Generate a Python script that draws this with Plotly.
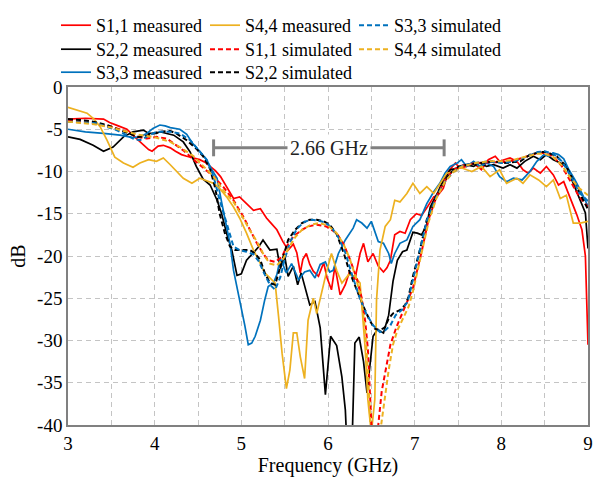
import plotly.graph_objects as go

# ---------------- measured return loss ----------------
s11_meas_f = [3.0, 3.2, 3.41, 3.48, 3.58, 3.68, 3.76, 3.83, 3.93, 3.97, 4.04, 4.1, 4.18, 4.24, 4.31, 4.37,
              4.45, 4.52, 4.58, 4.64, 4.7, 4.76, 4.83, 4.91, 4.98, 5.06, 5.14, 5.22, 5.29, 5.35, 5.41, 5.48,
              5.54, 5.6, 5.64, 5.68, 5.71, 5.75, 5.79, 5.83, 5.89, 5.95, 5.99, 6.04, 6.08, 6.14, 6.2, 6.25,
              6.31, 6.37, 6.41, 6.46, 6.52, 6.58, 6.64, 6.68, 6.72, 6.77, 6.83, 6.89, 6.95, 7.02, 7.08, 7.14,
              7.22, 7.27, 7.33, 7.39, 7.47, 7.52, 7.6, 7.68, 7.77, 7.85, 7.93, 7.98, 8.1, 8.18, 8.25, 8.31,
              8.37, 8.45, 8.52, 8.6, 8.66, 8.72, 8.79, 8.87, 8.93, 8.97, 9.0]
s11_meas_db = [-3.8, -3.7, -3.8, -4.2, -4.6, -5.0, -5.8, -6.5, -7.4, -7.6, -7.0, -6.9, -7.2, -7.6, -8.0, -8.2,
               -8.4, -8.6, -8.9, -9.4, -9.9, -10.6, -11.8, -13.2, -13.0, -13.8, -14.6, -14.4, -15.5, -16.2, -16.9, -18.3,
               -19.3, -18.6, -19.6, -22.0, -20.4, -19.7, -21.0, -21.8, -22.4, -20.8, -22.6, -24.0, -21.2, -24.6, -23.4, -21.8,
               -22.8, -19.7, -18.5, -20.7, -19.7, -21.2, -21.9, -21.4, -20.5, -17.5, -17.1, -17.3, -15.7, -15.0, -15.2, -14.3,
               -13.0, -12.8, -12.0, -10.0, -9.0, -9.6, -9.4, -9.0, -9.8, -8.6, -8.2, -8.8, -8.4, -8.8, -9.8, -10.2,
               -9.6, -10.2, -9.4, -10.4, -11.6, -11.2, -13.0, -15.1, -16.9, -20.0, -30.5]

s22_meas_f = [3.0, 3.14, 3.29, 3.41, 3.52, 3.64, 3.75, 3.87, 3.93, 4.02, 4.06, 4.14, 4.22, 4.33, 4.41, 4.48,
              4.56, 4.64, 4.72, 4.77, 4.83, 4.89, 4.95, 5.0, 5.06, 5.14, 5.2, 5.25, 5.33, 5.41, 5.45, 5.5,
              5.54, 5.6, 5.65, 5.69, 5.74, 5.79, 5.85, 5.91, 5.97, 6.03, 6.1, 6.16, 6.2, 6.23, 6.27, 6.31,
              6.36, 6.41, 6.45, 6.48, 6.52, 6.57, 6.64, 6.7, 6.75, 6.8, 6.86, 6.91, 6.98, 7.03, 7.08, 7.14,
              7.18, 7.22, 7.27, 7.33, 7.41, 7.49, 7.58, 7.68, 7.75, 7.83, 7.91, 8.02, 8.1, 8.18, 8.27, 8.37,
              8.45, 8.52, 8.6, 8.68, 8.75, 8.83, 8.91, 8.97, 9.0]
s22_meas_db = [-5.9, -6.2, -6.9, -7.6, -7.1, -5.9, -5.3, -5.1, -5.5, -5.5, -5.3, -5.5, -5.7, -6.5, -7.7, -9.4,
               -10.9, -11.6, -13.4, -14.9, -17.3, -19.3, -22.3, -22.1, -20.5, -19.6, -18.9, -18.1, -19.3, -19.2, -21.5, -20.0,
               -22.4, -21.2, -23.4, -22.0, -23.8, -25.8, -25.4, -28.5, -36.4, -29.5, -30.6, -34.3, -38.2, -45.0, -45.0, -30.3,
               -29.6, -32.5, -36.2, -33.4, -29.5, -28.7, -29.1, -27.0, -23.0, -20.5, -19.5, -19.3, -17.2, -17.3, -17.5, -16.3,
               -14.2, -13.4, -12.4, -11.0, -9.8, -9.6, -9.2, -9.4, -9.0, -9.4, -9.2, -9.6, -9.2, -9.6, -8.8, -8.2,
               -8.6, -8.0, -8.6, -9.0, -9.4, -11.4, -13.4, -14.9, -19.1]

s33_meas_f = [3.0, 3.2, 3.41, 3.6, 3.75, 3.83, 3.91, 3.98, 4.06, 4.12, 4.18, 4.29, 4.37, 4.44, 4.52, 4.6,
              4.66, 4.72, 4.77, 4.83, 4.87, 4.91, 4.95, 5.0, 5.04, 5.08, 5.12, 5.16, 5.22, 5.27, 5.31, 5.37,
              5.41, 5.45, 5.52, 5.58, 5.66, 5.73, 5.79, 5.85, 5.91, 5.97, 6.02, 6.06, 6.12, 6.2, 6.29, 6.33,
              6.39, 6.45, 6.5, 6.58, 6.64, 6.7, 6.73, 6.77, 6.83, 6.91, 6.98, 7.06, 7.14, 7.22, 7.29, 7.35,
              7.41, 7.49, 7.54, 7.6, 7.68, 7.75, 7.83, 7.91, 7.98, 8.06, 8.14, 8.24, 8.33, 8.41, 8.49, 8.55,
              8.6, 8.66, 8.72, 8.78, 8.85, 8.93, 9.0]
s33_meas_db = [-5.0, -5.3, -5.5, -5.7, -6.0, -5.9, -5.5, -4.9, -4.5, -4.6, -4.8, -5.0, -5.6, -6.7, -7.6, -8.6,
               -9.8, -10.8, -13.5, -16.4, -18.6, -21.7, -23.6, -26.0, -28.2, -30.5, -30.3, -29.5, -27.6, -25.2, -23.6, -23.2,
               -22.2, -20.3, -22.0, -20.9, -22.8, -21.9, -21.7, -22.6, -21.0, -20.7, -21.9, -21.7, -19.7, -18.1, -16.7, -15.7,
               -16.1, -16.7, -15.9, -18.3, -18.5, -19.7, -20.9, -19.7, -18.5, -18.1, -16.5, -15.7, -13.8, -12.4, -11.4, -10.2,
               -9.4, -9.0, -8.6, -9.4, -8.8, -9.4, -9.0, -9.4, -10.6, -11.2, -10.8, -11.0, -10.0, -8.8, -8.0, -8.2,
               -7.8, -8.0, -8.5, -9.8, -11.0, -12.6, -14.1]

s44_meas_f = [3.0, 3.1, 3.22, 3.3, 3.37, 3.45, 3.54, 3.64, 3.75, 3.83, 3.93, 4.02, 4.1, 4.18, 4.25, 4.33,
              4.43, 4.52, 4.6, 4.68, 4.75, 4.83, 4.91, 4.98, 5.06, 5.14, 5.22, 5.27, 5.33, 5.39, 5.43, 5.47,
              5.52, 5.56, 5.6, 5.64, 5.68, 5.73, 5.77, 5.83, 5.87, 5.93, 5.98, 6.04, 6.1, 6.16, 6.24, 6.31,
              6.37, 6.43, 6.46, 6.5, 6.54, 6.56, 6.6, 6.66, 6.72, 6.77, 6.83, 6.91, 6.98, 7.06, 7.14, 7.22,
              7.29, 7.37, 7.47, 7.52, 7.6, 7.66, 7.77, 7.87, 7.98, 8.06, 8.18, 8.25, 8.33, 8.43, 8.52, 8.6,
              8.68, 8.75, 8.83, 8.91, 9.0]
s44_meas_db = [-2.4, -2.7, -3.1, -3.8, -4.7, -6.3, -8.3, -9.0, -9.5, -9.0, -8.6, -8.8, -8.4, -9.2, -10.0, -10.8,
               -11.4, -10.8, -11.1, -11.4, -12.0, -13.0, -14.2, -15.5, -17.3, -19.3, -20.9, -22.0, -22.6, -23.2, -27.2, -31.5,
               -35.7, -33.5, -29.1, -29.1, -31.9, -34.5, -27.6, -25.0, -26.8, -24.0, -22.0, -19.7, -21.7, -23.2, -22.2, -22.4,
               -23.2, -31.1, -37.0, -41.0, -37.0, -25.2, -19.3, -16.5, -15.7, -13.4, -13.6, -12.6, -11.4, -12.6, -11.8, -12.6,
               -11.4, -10.2, -10.0, -9.5, -9.8, -10.0, -9.4, -10.6, -9.8, -11.4, -10.8, -11.4, -10.4, -11.0, -11.8, -11.0,
               -13.2, -12.8, -16.1, -16.1, -15.9]

# ---------------- simulated return loss ----------------
s11_sim_f = [3.0, 3.3, 3.5, 3.68, 3.79, 3.91, 4.02, 4.14, 4.25, 4.33, 4.45, 4.56, 4.68, 4.79, 4.91, 5.02,
             5.1, 5.18, 5.25, 5.31, 5.39, 5.47, 5.52, 5.6, 5.7, 5.77, 5.87, 5.98, 6.1, 6.18, 6.25, 6.33,
             6.39, 6.43, 6.46, 6.48, 6.5, 6.52, 6.56, 6.58, 6.62, 6.68, 6.72, 6.79, 6.87, 6.93, 6.98, 7.08,
             7.16, 7.25, 7.35, 7.45, 7.55, 7.7, 7.85, 8.0, 8.15, 8.3, 8.42, 8.5, 8.6, 8.7, 8.8, 8.9, 9.0]
s11_sim_db = [-4.0, -4.3, -4.7, -5.3, -5.9, -6.1, -5.9, -6.1, -6.9, -7.5, -8.6, -9.6, -10.6, -11.8, -13.4, -15.3,
              -16.9, -18.5, -19.7, -20.5, -20.7, -20.1, -18.9, -17.7, -16.9, -16.5, -16.3, -16.5, -17.3, -18.6, -20.3, -22.6,
              -25.0, -27.8, -31.0, -35.0, -39.0, -44.0, -44.0, -40.0, -36.0, -32.5, -30.5, -28.4, -26.5, -25.2, -23.8, -19.5,
              -15.7, -13.0, -11.0, -9.8, -9.3, -9.0, -8.9, -8.9, -8.7, -8.2, -7.8, -7.8, -8.2, -9.4, -11.2, -13.0, -14.2]

s22_sim_f = [3.0, 3.14, 3.29, 3.45, 3.6, 3.72, 3.81, 3.9, 3.98, 4.06, 4.18, 4.25, 4.37, 4.48, 4.56, 4.64,
             4.7, 4.75, 4.81, 4.87, 4.93, 5.02, 5.1, 5.16, 5.22, 5.27, 5.33, 5.39, 5.43, 5.48, 5.54, 5.62,
             5.7, 5.79, 5.87, 5.95, 6.02, 6.1, 6.18, 6.25, 6.33, 6.41, 6.48, 6.54, 6.6, 6.66, 6.7, 6.75,
             6.83, 6.89, 6.93, 6.98, 7.06, 7.14, 7.25, 7.33, 7.41, 7.51, 7.6, 7.75, 7.91, 8.06, 8.22, 8.33,
             8.45, 8.52, 8.64, 8.75, 8.87, 8.97, 9.0]
s22_sim_db = [-3.8, -3.9, -4.1, -4.5, -5.1, -5.6, -5.9, -5.8, -5.5, -5.3, -5.2, -5.5, -6.3, -7.3, -8.2, -9.7,
              -12.0, -15.0, -17.3, -18.9, -19.3, -19.3, -19.3, -19.7, -20.5, -22.0, -23.2, -23.4, -22.0, -20.1, -18.1, -16.9,
              -16.1, -15.7, -15.7, -15.9, -16.3, -17.4, -19.6, -21.9, -24.0, -26.0, -27.6, -28.6, -28.8, -28.4, -27.4, -26.8,
              -26.4, -25.8, -24.8, -22.4, -19.3, -15.7, -13.0, -11.4, -10.2, -9.4, -9.2, -9.0, -8.8, -9.0, -8.8, -8.0,
              -7.7, -7.7, -8.2, -9.4, -11.8, -13.8, -14.5]

s33_sim_f = [3.0, 3.33, 3.56, 3.75, 3.83, 3.91, 4.02, 4.18, 4.29, 4.41, 4.52, 4.6, 4.68, 4.75, 4.83, 4.91,
             4.98, 5.06, 5.14, 5.2, 5.27, 5.33, 5.39, 5.45, 5.5, 5.56, 5.64, 5.72, 5.8, 5.88, 5.96, 6.04,
             6.12, 6.2, 6.28, 6.36, 6.44, 6.52, 6.6, 6.66, 6.72, 6.78, 6.85, 6.92, 6.98, 7.06, 7.14, 7.25,
             7.35, 7.45, 7.55, 7.7, 7.85, 8.0, 8.15, 8.3, 8.42, 8.5, 8.6, 8.7, 8.8, 8.9, 9.0]
s33_sim_db = [-4.1, -4.3, -5.1, -6.1, -6.3, -5.9, -5.3, -5.3, -5.5, -6.3, -7.7, -8.6, -10.6, -13.4, -16.1, -18.9,
              -19.3, -19.5, -19.8, -20.6, -22.2, -23.4, -24.0, -22.5, -20.4, -18.4, -16.8, -16.0, -15.7, -15.8, -16.0, -16.6,
              -17.8, -19.6, -22.3, -24.8, -26.8, -28.2, -29.0, -28.8, -28.2, -27.0, -26.4, -25.4, -22.8, -19.2, -15.8, -13.0,
              -11.2, -10.0, -9.3, -9.0, -8.8, -9.0, -8.8, -8.2, -7.7, -7.6, -7.9, -8.8, -10.5, -12.5, -13.5]

s44_sim_f = [3.0, 3.3, 3.5, 3.68, 3.79, 3.91, 4.02, 4.18, 4.29, 4.45, 4.56, 4.68, 4.79, 4.91, 5.02, 5.1,
             5.18, 5.26, 5.33, 5.41, 5.48, 5.55, 5.62, 5.7, 5.8, 5.9, 6.0, 6.1, 6.18, 6.25, 6.33, 6.39,
             6.43, 6.46, 6.49, 6.52, 6.56, 6.6, 6.64, 6.7, 6.75, 6.8, 6.87, 6.93, 6.98, 7.08, 7.16, 7.25,
             7.35, 7.45, 7.55, 7.7, 7.85, 8.0, 8.15, 8.3, 8.42, 8.5, 8.6, 8.7, 8.8, 8.9, 9.0]
s44_sim_db = [-4.1, -4.4, -4.8, -5.3, -5.6, -5.8, -6.0, -6.5, -7.1, -8.2, -9.4, -10.6, -12.2, -13.6, -15.5, -17.0,
              -18.3, -19.9, -20.9, -21.1, -20.4, -19.0, -17.8, -16.9, -16.3, -16.1, -16.4, -17.3, -18.6, -20.3, -22.8, -25.5,
              -29.0, -33.5, -40.0, -44.0, -44.0, -41.0, -37.5, -33.5, -30.5, -28.8, -27.3, -26.0, -24.2, -19.8, -16.0, -13.2,
              -11.2, -10.0, -9.4, -9.0, -8.8, -8.8, -8.6, -8.2, -7.9, -7.9, -8.3, -9.3, -10.8, -12.0, -12.8]

# bandwidth marker
band_start_ghz = 4.68
bandwidth_ghz = 2.66
band_level_db = -7.2
band_label = f"{bandwidth_ghz:.2f} GHz"

x_tick_vals = [3, 4, 5, 6, 7, 8, 9]
y_tick_vals = [0, -5, -10, -15, -20, -25, -30, -35, -40]
y_tick_labels = ["0", "-5", "-10", "-15", "-20", "-25", "-30", "-35", "-40"]

RED, BLACK, BLUE, YELLOW = "#ff0000", "#000000", "#0072bd", "#edb120"
DASH = "5px,3px"
FONT = "Liberation Serif"

# (name, freq, dB, colour, dashed, legend row)
series = [
    ("S1,1 measured", s11_meas_f, s11_meas_db, RED, False, "legend"),
    ("S2,2 measured", s22_meas_f, s22_meas_db, BLACK, False, "legend2"),
    ("S3,3 measured", s33_meas_f, s33_meas_db, BLUE, False, "legend3"),
    ("S4,4 measured", s44_meas_f, s44_meas_db, YELLOW, False, "legend"),
    ("S1,1 simulated", s11_sim_f, s11_sim_db, RED, True, "legend2"),
    ("S2,2 simulated", s22_sim_f, s22_sim_db, BLACK, True, "legend3"),
    ("S3,3 simulated", s33_sim_f, s33_sim_db, BLUE, True, "legend"),
    ("S4,4 simulated", s44_sim_f, s44_sim_db, YELLOW, True, "legend2"),
]

fig = go.Figure()
for name, f, db, color, dashed, leg in series:
    fig.add_trace(go.Scatter(
        x=f, y=db, mode="lines", name=name, legend=leg,
        line=dict(color=color, width=2.0 if dashed else 1.7, dash=DASH if dashed else "solid"),
    ))

# bandwidth bracket
band_end = band_start_ghz + bandwidth_ghz
gray = "#808080"
fig.add_shape(type="line", x0=band_start_ghz, x1=band_end, y0=band_level_db, y1=band_level_db,
              line=dict(color=gray, width=3))
for xe in (band_start_ghz, band_end):
    fig.add_shape(type="line", x0=xe, x1=xe, y0=band_level_db - 1.0, y1=band_level_db + 1.0,
                  line=dict(color=gray, width=3))
fig.add_annotation(x=(band_start_ghz + band_end) / 2, y=band_level_db, text=band_label,
                   showarrow=False, bgcolor="white", borderpad=2,
                   font=dict(family=FONT, size=20, color="#222222"))


def row_legend(top_px):
    # one horizontal legend per row, fixed entry width gives the three columns
    return dict(orientation="h", xref="container", yref="container", x=56 / 593, y=1 - top_px / 477,
                xanchor="left", yanchor="top", font=dict(family=FONT, size=18, color="black"),
                itemwidth=30, entrywidth=104, entrywidthmode="pixels",
                bgcolor="rgba(0,0,0,0)", traceorder="normal")


grid = dict(showgrid=True, gridcolor="#c4c4c4", gridwidth=1, griddash="5px,4px")
fig.update_layout(
    width=593, height=477,
    margin=dict(l=68, r=5, t=87, b=52, autoexpand=False),
    paper_bgcolor="white", plot_bgcolor="white",
    font=dict(family=FONT, size=19, color="black"),
    showlegend=True,
    legend=row_legend(7), legend2=row_legend(31), legend3=row_legend(54),
    xaxis=dict(range=[3, 9], tickvals=x_tick_vals, showline=True, linecolor=gray, linewidth=1.5,
               mirror=True, ticks="", zeroline=False,
               title=dict(text="Frequency (GHz)", font=dict(family=FONT, size=20), standoff=6),
               minor=dict(dtick=0.5, **grid), **grid),
    yaxis=dict(range=[-40, 0], tickvals=y_tick_vals, ticktext=y_tick_labels, showline=True,
               linecolor=gray, linewidth=1.5, mirror=True, ticks="", zeroline=False,
               title=dict(text="dB", font=dict(family=FONT, size=20), standoff=6), **grid),
)

fig.write_html("out.html")
